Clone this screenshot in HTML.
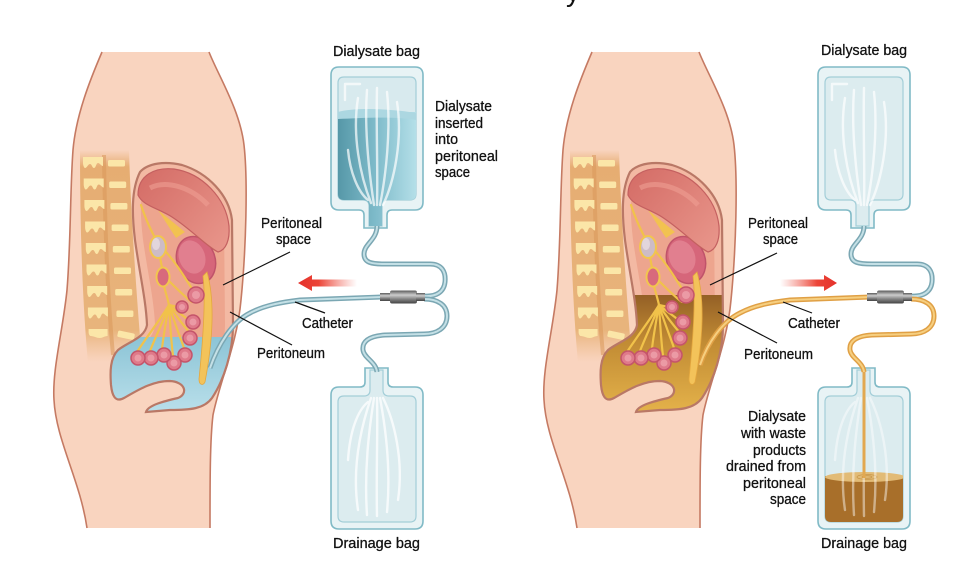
<!DOCTYPE html>
<html><head><meta charset="utf-8"><style>html,body{margin:0;padding:0;background:#fff}svg{display:block}</style></head>
<body>
<svg width="980" height="588" viewBox="0 0 980 588" xmlns="http://www.w3.org/2000/svg" xmlns:xlink="http://www.w3.org/1999/xlink" font-family="'Liberation Sans', Arial, sans-serif">
<defs>
  <clipPath id="cav"><path id="cavP" d="M 140 172 C 148 163, 165 161, 182 165 C 208 173, 229 195, 232 220 L 233 325 C 233 352, 224 380, 212 398 C 204 409, 190 410, 170 410 L 146 412 C 148 405, 165 401, 178 398 C 188 394, 186 382, 170 381 C 152 381, 138 390, 124 398 C 115 403, 112 395, 111 385 C 110 372, 110 358, 118 350 C 128 342, 145 338, 147 325 C 146 300, 139 270, 135 240 C 132 215, 131 190, 140 172 Z"/></clipPath>
  <linearGradient id="spineG" x1="0" y1="150" x2="0" y2="362" gradientUnits="userSpaceOnUse">
    <stop offset="0" stop-color="#e6ad72" stop-opacity="0"/>
    <stop offset="0.08" stop-color="#e6ad72" stop-opacity="1"/>
    <stop offset="0.85" stop-color="#e8b47c" stop-opacity="1"/>
    <stop offset="1" stop-color="#eebc8c" stop-opacity="0"/>
  </linearGradient>
  <linearGradient id="blueF" x1="0" y1="337" x2="0" y2="412" gradientUnits="userSpaceOnUse">
    <stop offset="0" stop-color="#8cc4d6"/><stop offset="1" stop-color="#b9dfea"/>
  </linearGradient>
  <linearGradient id="brownF" x1="0" y1="295" x2="0" y2="412" gradientUnits="userSpaceOnUse">
    <stop offset="0" stop-color="#946026"/><stop offset="0.4" stop-color="#c18b34"/><stop offset="1" stop-color="#e4b24a"/>
  </linearGradient>
  <linearGradient id="stomG" x1="140" y1="170" x2="228" y2="245" gradientUnits="userSpaceOnUse">
    <stop offset="0" stop-color="#d46c66"/><stop offset="1" stop-color="#e8958a"/>
  </linearGradient>
  <linearGradient id="metal" x1="0" y1="0" x2="0" y2="1">
    <stop offset="0" stop-color="#5a5a5a"/><stop offset="0.35" stop-color="#cdcdcd"/><stop offset="0.65" stop-color="#858585"/><stop offset="1" stop-color="#444"/>
  </linearGradient>
  <linearGradient id="bagFluid" x1="338" y1="0" x2="416" y2="0" gradientUnits="userSpaceOnUse">
    <stop offset="0" stop-color="#5698a8"/><stop offset="0.5" stop-color="#80bccb"/><stop offset="1" stop-color="#b4dfe8"/>
  </linearGradient>
  <linearGradient id="bagBrown" x1="825" y1="0" x2="903" y2="0" gradientUnits="userSpaceOnUse">
    <stop offset="0" stop-color="#a86f2a"/><stop offset="0.5" stop-color="#c99240"/><stop offset="1" stop-color="#dcae5e"/>
  </linearGradient>
  <linearGradient id="arL" x1="298" x2="357" y1="0" y2="0" gradientUnits="userSpaceOnUse">
    <stop offset="0" stop-color="#e4302a"/><stop offset="0.35" stop-color="#ec4538"/><stop offset="1" stop-color="#f06a5e" stop-opacity="0"/>
  </linearGradient>
  <linearGradient id="arR" x1="780" x2="837" y1="0" y2="0" gradientUnits="userSpaceOnUse">
    <stop offset="0" stop-color="#f06a5e" stop-opacity="0"/><stop offset="0.65" stop-color="#ec4538"/><stop offset="1" stop-color="#e4302a"/>
  </linearGradient>

  <path id="bodyP" d="M102 52 L209 52 C 218 75, 240 110, 244 145 C 248 180, 246 250, 241 300 C 237 345, 220 380, 213 415 C 210 440, 210 480, 210 528 L 87 528 C 80 480, 56 440, 54 400 C 52 370, 63 330, 67 290 C 71 240, 70 190, 73 150 C 76 115, 90 80, 102 52 Z"/>

  <g id="bodyBase">
    <use xlink:href="#bodyP" fill="#f9d4bf"/>
    <path d="M102 52 C 90 80, 76 115, 73 150 C 70 190, 71 240, 67 290 C 63 330, 52 370, 54 400 C 56 440, 80 480, 87 528" fill="none" stroke="#c57a63" stroke-width="1.6"/>
    <path d="M209 52 C 218 75, 240 110, 244 145 C 248 180, 246 250, 241 300 C 237 345, 220 380, 213 415 C 210 440, 210 480, 210 528" fill="none" stroke="#c57a63" stroke-width="1.6"/>
    <!-- spine -->
    <path d="M 80 150 C 80 250, 84 320, 88 362 L 142 362 C 137 300, 131 220, 129 150 Z" fill="url(#spineG)"/>
    <path d="M 104 155 C 105 240, 108 300, 113 355" fill="none" stroke="#d8975a" stroke-width="4" opacity="0.55"/>
    <g fill="#fbe6a8">
      <path d="M83 157 h20 v9 c-2 0 -3 -3 -5 -3 c-2 0 -2 5 -4 5 c-2 0 -2 -4 -4 -4 c-2 0 -3 4 -5 4 c-1 0 -2 -3 -2 -5 z"/>
      <path d="M83.7 178.5 h20 v9 c-2 0 -3 -3 -5 -3 c-2 0 -2 5 -4 5 c-2 0 -2 -4 -4 -4 c-2 0 -3 4 -5 4 c-1 0 -2 -3 -2 -5 z"/>
      <path d="M84.4 200 h20 v9 c-2 0 -3 -3 -5 -3 c-2 0 -2 5 -4 5 c-2 0 -2 -4 -4 -4 c-2 0 -3 4 -5 4 c-1 0 -2 -3 -2 -5 z"/>
      <path d="M85.1 221.5 h20 v9 c-2 0 -3 -3 -5 -3 c-2 0 -2 5 -4 5 c-2 0 -2 -4 -4 -4 c-2 0 -3 4 -5 4 c-1 0 -2 -3 -2 -5 z"/>
      <path d="M85.8 243 h20 v9 c-2 0 -3 -3 -5 -3 c-2 0 -2 5 -4 5 c-2 0 -2 -4 -4 -4 c-2 0 -3 4 -5 4 c-1 0 -2 -3 -2 -5 z"/>
      <path d="M86.5 264.5 h20 v9 c-2 0 -3 -3 -5 -3 c-2 0 -2 5 -4 5 c-2 0 -2 -4 -4 -4 c-2 0 -3 4 -5 4 c-1 0 -2 -3 -2 -5 z"/>
      <path d="M87.2 286 h20 v9 c-2 0 -3 -3 -5 -3 c-2 0 -2 5 -4 5 c-2 0 -2 -4 -4 -4 c-2 0 -3 4 -5 4 c-1 0 -2 -3 -2 -5 z"/>
      <path d="M87.9 307.5 h20 v9 c-2 0 -3 -3 -5 -3 c-2 0 -2 5 -4 5 c-2 0 -2 -4 -4 -4 c-2 0 -3 4 -5 4 c-1 0 -2 -3 -2 -5 z"/>
      <path d="M88.6 329 h19 v7 c-3 0 -5 2 -8 2 c-3 0 -6 -2 -9 -2 c-1 0 -2 -2 -2 -4 z"/>
      <rect x="108" y="160" width="17" height="6.5" rx="1.5"/>
      <rect x="109.2" y="181.5" width="17" height="6.5" rx="1.5"/>
      <rect x="110.4" y="203" width="17" height="6.5" rx="1.5"/>
      <rect x="111.6" y="224.5" width="17" height="6.5" rx="1.5"/>
      <rect x="112.8" y="246" width="17" height="6.5" rx="1.5"/>
      <rect x="114" y="267.5" width="17" height="6.5" rx="1.5"/>
      <rect x="115.2" y="289" width="17" height="6.5" rx="1.5"/>
      <rect x="116.4" y="310.5" width="17" height="6.5" rx="1.5"/>
      <rect x="117.6" y="332" width="17" height="6.5" rx="1.5" transform="rotate(12 126 335)"/>
    </g>
    <!-- cavity base -->
    <use xlink:href="#cavP" fill="#eda58e"/>
  </g>

  <g id="band">
    <g clip-path="url(#cav)">
      <use xlink:href="#cavP" fill="none" stroke="#f4c0aa" stroke-width="16" opacity="0.75"/>
    </g>
  </g>

  <g id="organs">
    <ellipse cx="196" cy="260" rx="19" ry="24" transform="rotate(-20 196 260)" fill="#d6667a" stroke="#c0536a" stroke-width="1.5"/>
    <ellipse cx="192" cy="257" rx="13" ry="17" transform="rotate(-20 192 257)" fill="#e17f8f"/>
    <path d="M 158 210 L 185 232 L 176 238 Z" fill="#f2c250"/>
    <path d="M 138 195 C 138 175, 155 167, 174 169 C 202 173, 226 198, 229 226 C 230 240, 226 250, 218 252 C 206 246, 192 230, 172 217 C 158 208, 143 206, 138 195 Z" fill="url(#stomG)" stroke="#c46060" stroke-width="1.2"/>
    <path d="M 150 188 C 165 180, 190 186, 208 205" fill="none" stroke="#ee9f92" stroke-width="5" opacity="0.6"/>
    <!-- vessels -->
    <g fill="none" stroke="#f1c24a" stroke-width="2.2" stroke-linecap="round">
      <path d="M 141 205 C 146 220, 150 228, 155 238"/>
      <path d="M 160 257 L 162 268"/>
      <path d="M 164 250 C 176 262, 186 280, 193 290"/>
      <path d="M 168 280 C 178 290, 186 298, 192 302"/>
      <path d="M 164 286 C 166 294, 168 300, 169 305"/>
      <path d="M 169 305 C 160 320, 146 338, 137 352"/>
      <path d="M 169 305 C 163 322, 155 338, 150 351"/>
      <path d="M 169 305 C 166 322, 163 338, 162 349"/>
      <path d="M 169 305 C 170 322, 171 340, 173 356"/>
      <path d="M 169 305 C 174 322, 180 336, 184 348"/>
      <path d="M 169 305 C 176 316, 184 326, 190 333"/>
      <path d="M 169 305 C 175 310, 181 314, 186 318"/>
      <path d="M 169 305 C 173 306, 178 307, 182 307"/>
    </g>
    <ellipse cx="158" cy="247" rx="8" ry="11" fill="#cdbcc6" stroke="#f2c64e" stroke-width="2"/>
    <ellipse cx="156" cy="244" rx="4" ry="6" fill="#e2d6dc"/>
    <ellipse cx="163" cy="277" rx="6.5" ry="9.5" fill="#d86a7c" stroke="#f2c64e" stroke-width="2"/>
    <!-- long yellow band -->
    <path d="M 207 272 C 215 300, 213 340, 205 382 C 203 386, 199 385, 199 379 C 203 340, 206 300, 203 276 Z" fill="#f3c35a" stroke="#e4a73e" stroke-width="0.8"/>
    <!-- circles -->
    <g stroke="#c4546a" stroke-width="1.5" fill="#df7a8a">
      <circle cx="196" cy="295" r="8"/>
      <circle cx="182" cy="307" r="6"/>
      <circle cx="193" cy="322" r="7"/>
      <circle cx="190" cy="338" r="7"/>
      <circle cx="185" cy="355" r="7"/>
      <circle cx="174" cy="363" r="7"/>
      <circle cx="164" cy="355" r="7"/>
      <circle cx="151" cy="358" r="7"/>
      <circle cx="138" cy="358" r="7"/>
    </g>
    <g fill="#eb9aa5">
      <circle cx="196" cy="295" r="4"/><circle cx="182" cy="307" r="3"/><circle cx="193" cy="322" r="3.5"/>
      <circle cx="190" cy="338" r="3.5"/><circle cx="185" cy="355" r="3.5"/><circle cx="174" cy="363" r="3.5"/>
      <circle cx="164" cy="355" r="3.5"/><circle cx="151" cy="358" r="3.5"/><circle cx="138" cy="358" r="3.5"/>
    </g>
  </g>

  <path id="bagTopO" d="M 339 67 H 415 Q 423 67 423 75 V 202 Q 423 210 415 210 H 392 Q 387 210 387 215 V 228 H 364 V 215 Q 364 210 359 210 H 339 Q 331 210 331 202 V 75 Q 331 67 339 67 Z"/>
  <path id="bagTopI" d="M 344 77 H 410 Q 416 77 416 83 V 194 Q 416 200 410 200 H 388 Q 382 200 382 206 V 226 H 369 V 206 Q 369 200 363 200 H 344 Q 338 200 338 194 V 83 Q 338 77 344 77 Z"/>
  <path id="bagBotO" d="M 339 529 H 415 Q 423 529 423 521 V 395 Q 423 387 415 387 H 393 Q 388 387 388 382 V 368 H 365 V 382 Q 365 387 360 387 H 339 Q 331 387 331 395 V 521 Q 331 529 339 529 Z"/>
  <path id="bagBotI" d="M 344 522 H 410 Q 416 522 416 516 V 402 Q 416 396 410 396 H 389 Q 383 396 383 390 V 370 H 370 V 390 Q 370 396 364 396 H 344 Q 338 396 338 402 V 516 Q 338 522 344 522 Z"/>
  <clipPath id="clipTopI"><use xlink:href="#bagTopI"/></clipPath>
  <clipPath id="clipBotI"><use xlink:href="#bagBotI"/></clipPath>

  <g id="streaksTop" fill="none" stroke="#ffffff" stroke-width="2.4" stroke-linecap="round" opacity="0.7">
    <path d="M 358 98 C 352 135, 360 175, 371 203"/>
    <path d="M 367 90 C 364 130, 369 172, 374 205"/>
    <path d="M 377 88 C 376 130, 378 172, 377 205"/>
    <path d="M 387 92 C 391 130, 386 175, 380 205"/>
    <path d="M 397 102 C 403 140, 394 182, 383 205"/>
    <path d="M 348 150 C 350 172, 358 192, 368 200"/>
    <path d="M 345 85 V 100 M 345 84 H 360"/>
  </g>
  <g id="streaksBot" fill="none" stroke="#ffffff" stroke-width="2.4" stroke-linecap="round" opacity="0.75">
    <path d="M 358 510 C 352 470, 360 430, 371 398"/>
    <path d="M 367 515 C 364 470, 369 430, 374 398"/>
    <path d="M 377 516 C 376 470, 378 430, 377 398"/>
    <path d="M 387 512 C 391 470, 386 430, 380 398"/>
    <path d="M 398 500 C 404 460, 394 420, 383 398"/>
    <path d="M 348 460 C 350 430, 358 410, 368 402"/>
  </g>

  <g id="connector">
    <rect x="380" y="293" width="12" height="8" fill="url(#metal)"/>
    <rect x="390" y="290.5" width="27" height="13" rx="2" fill="url(#metal)"/>
    <rect x="416" y="293" width="9" height="8" fill="url(#metal)"/>
  </g>
  <path id="tubeUp" d="M 377 226 C 377 240, 364 244, 364 254 C 364 263, 372 264, 385 264 L 430 264 C 442 264, 446 272, 445 282 C 444 292, 436 297, 424 296"/>
  <path id="tubeLow" d="M 424 299 C 438 299, 447 305, 447 316 C 447 328, 437 334, 424 334 L 385 335 C 368 336, 362 342, 363 350 C 364 358, 376 362, 377 372"/>
</defs>

<!-- cut-off title fragment -->
<text x="566" y="1" font-size="28" fill="#111">y</text>

<!-- ===== LEFT FIGURE ===== -->
<use xlink:href="#bodyBase"/>
<use xlink:href="#band"/>
<g clip-path="url(#cav)"><rect x="100" y="337" width="140" height="80" fill="url(#blueF)"/></g>
<use xlink:href="#organs"/>
<use xlink:href="#cavP" fill="none" stroke="#b97866" stroke-width="2.2"/>
<!-- catheter -->
<path d="M 210 368 C 218 345, 232 322, 250 313 C 265 305, 283 302, 300 300 L 382 297" fill="none" stroke="#7ba7b3" stroke-width="5"/>
<path d="M 210 368 C 218 345, 232 322, 250 313 C 265 305, 283 302, 300 300 L 382 297" fill="none" stroke="#c4e0e6" stroke-width="2"/>
<!-- bags left -->
<use xlink:href="#bagTopO" fill="#e8f3f5" stroke="#80bac6" stroke-width="1.6"/>
<use xlink:href="#bagTopI" fill="#d8eaee" stroke="#a3ced8" stroke-width="1.2"/>
<g clip-path="url(#clipTopI)">
  <rect x="330" y="112" width="95" height="120" fill="url(#bagFluid)"/>
  <path d="M 338 112 C 355 107, 395 109, 416 113 L 416 120 C 395 116, 360 118, 338 119 Z" fill="#acd7e1"/>
</g>
<use xlink:href="#streaksTop"/>
<use xlink:href="#bagBotO" fill="#e8f3f5" stroke="#80bac6" stroke-width="1.6"/>
<use xlink:href="#bagBotI" fill="#dcecef" stroke="#a3ced8" stroke-width="1.2"/>
<use xlink:href="#streaksBot"/>
<!-- tubes left -->
<use xlink:href="#tubeUp" fill="none" stroke="#7ba7b3" stroke-width="5"/>
<use xlink:href="#tubeUp" fill="none" stroke="#c4e0e6" stroke-width="2"/>
<use xlink:href="#tubeLow" fill="none" stroke="#7ba7b3" stroke-width="5"/>
<use xlink:href="#tubeLow" fill="none" stroke="#c4e0e6" stroke-width="2"/>
<use xlink:href="#connector"/>
<!-- arrow -->
<path d="M298 283 L312 275 L312 279.5 L357 279.5 L357 286.5 L312 286.5 L312 291 Z" fill="url(#arL)"/>
<!-- pointers -->
<g stroke="#111" stroke-width="1.2">
  <line x1="290" y1="252" x2="223" y2="285"/>
  <line x1="230" y1="312" x2="292" y2="345"/>
  <line x1="295" y1="302" x2="325" y2="313"/>
</g>

<!-- ===== RIGHT FIGURE ===== -->
<g transform="translate(490,0)">
  <use xlink:href="#bodyBase"/>
  <use xlink:href="#band"/>
  <g clip-path="url(#cav)"><rect x="100" y="295" width="140" height="122" fill="url(#brownF)"/></g>
  <use xlink:href="#organs"/>
  <use xlink:href="#cavP" fill="none" stroke="#b97866" stroke-width="2.2"/>
</g>
<path d="M 700 365 C 708 342, 722 322, 740 313 C 755 305, 773 302, 790 300 L 870 297" fill="none" stroke="#e0a045" stroke-width="5"/>
<path d="M 700 365 C 708 342, 722 322, 740 313 C 755 305, 773 302, 790 300 L 870 297" fill="none" stroke="#f6cf80" stroke-width="2"/>
<g transform="translate(487,0)">
  <use xlink:href="#bagTopO" fill="#e8f3f5" stroke="#80bac6" stroke-width="1.6"/>
  <use xlink:href="#bagTopI" fill="#dcecef" stroke="#a3ced8" stroke-width="1.2"/>
  <use xlink:href="#streaksTop"/>
  <use xlink:href="#bagBotO" fill="#e8f3f5" stroke="#80bac6" stroke-width="1.6"/>
  <use xlink:href="#bagBotI" fill="#dcecef" stroke="#a3ced8" stroke-width="1.2"/>
  <g clip-path="url(#clipBotI)">
    <rect x="330" y="476" width="95" height="50" fill="url(#bagBrown)"/>
    <ellipse cx="378" cy="477" rx="40" ry="5" fill="#e2bb76"/>
    <ellipse cx="380" cy="477" rx="10" ry="2.5" fill="none" stroke="#c9974a" stroke-width="0.8"/>
    <ellipse cx="380" cy="477" rx="5" ry="1.3" fill="none" stroke="#c9974a" stroke-width="0.8"/>
  </g>
  <use xlink:href="#streaksBot" opacity="0.6"/>
  <line x1="377" y1="370" x2="377" y2="478" stroke="#e2a850" stroke-width="3"/>
  <use xlink:href="#tubeUp" fill="none" stroke="#7ba7b3" stroke-width="5"/>
  <use xlink:href="#tubeUp" fill="none" stroke="#c4e0e6" stroke-width="2"/>
  <use xlink:href="#tubeLow" fill="none" stroke="#e0a045" stroke-width="5"/>
  <use xlink:href="#tubeLow" fill="none" stroke="#f6cf80" stroke-width="2"/>
  <use xlink:href="#connector"/>
</g>
<path d="M837 283 L824 275 L824 279.5 L780 279.5 L780 286.5 L824 286.5 L824 291 Z" fill="url(#arR)"/>
<g stroke="#111" stroke-width="1.2">
  <line x1="777" y1="253" x2="710" y2="285"/>
  <line x1="718" y1="312" x2="777" y2="343"/>
  <line x1="783" y1="302" x2="812" y2="313"/>
</g>

<!-- ===== TEXT ===== -->
<g font-size="15" fill="#111" stroke="#111" stroke-width="0.3">
  <text x="333" y="56" textLength="87" lengthAdjust="spacingAndGlyphs">Dialysate bag</text>
  <text x="435" y="111" textLength="57" lengthAdjust="spacingAndGlyphs">Dialysate</text>
  <text x="435" y="128" textLength="48" lengthAdjust="spacingAndGlyphs">inserted</text>
  <text x="435" y="144" textLength="23" lengthAdjust="spacingAndGlyphs">into</text>
  <text x="435" y="161" textLength="63" lengthAdjust="spacingAndGlyphs">peritoneal</text>
  <text x="435" y="177" textLength="35" lengthAdjust="spacingAndGlyphs">space</text>
  <text x="261" y="228" textLength="61" lengthAdjust="spacingAndGlyphs">Peritoneal</text>
  <text x="276" y="244" textLength="35" lengthAdjust="spacingAndGlyphs">space</text>
  <text x="302" y="328" textLength="51" lengthAdjust="spacingAndGlyphs">Catheter</text>
  <text x="257" y="358" textLength="68" lengthAdjust="spacingAndGlyphs">Peritoneum</text>
  <text x="333" y="548" textLength="87" lengthAdjust="spacingAndGlyphs">Drainage bag</text>

  <text x="821" y="55" textLength="86" lengthAdjust="spacingAndGlyphs">Dialysate bag</text>
  <text x="748" y="228" textLength="60" lengthAdjust="spacingAndGlyphs">Peritoneal</text>
  <text x="763" y="244" textLength="35" lengthAdjust="spacingAndGlyphs">space</text>
  <text x="788" y="328" textLength="52" lengthAdjust="spacingAndGlyphs">Catheter</text>
  <text x="744" y="359" textLength="69" lengthAdjust="spacingAndGlyphs">Peritoneum</text>
  <text x="748" y="421" textLength="58" lengthAdjust="spacingAndGlyphs">Dialysate</text>
  <text x="741" y="438" textLength="65" lengthAdjust="spacingAndGlyphs">with waste</text>
  <text x="753" y="455" textLength="53" lengthAdjust="spacingAndGlyphs">products</text>
  <text x="726" y="471" textLength="80" lengthAdjust="spacingAndGlyphs">drained from</text>
  <text x="743" y="488" textLength="63" lengthAdjust="spacingAndGlyphs">peritoneal</text>
  <text x="770" y="504" textLength="36" lengthAdjust="spacingAndGlyphs">space</text>
  <text x="821" y="548" textLength="86" lengthAdjust="spacingAndGlyphs">Drainage bag</text>
</g>
</svg>
</body></html>
